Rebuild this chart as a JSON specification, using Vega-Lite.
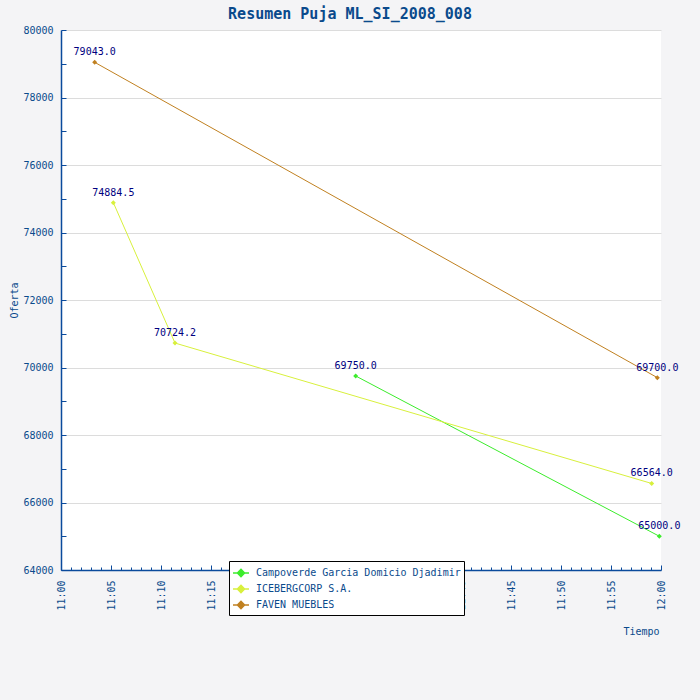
{
  "$schema": "https://vega.github.io/schema/vega-lite/v6.json",
  "autosize": "none",
  "width": 600,
  "height": 540,
  "padding": {"left": 61, "top": 30, "right": 39, "bottom": 130},
  "background": "#f4f4f6",
  "title": {
    "text": "Resumen Puja ML_SI_2008_008",
    "font": "DejaVu Sans Mono",
    "fontSize": 15,
    "fontWeight": "bold",
    "color": "#0a4a8c",
    "frame": "group",
    "anchor": "middle",
    "dx": -11,
    "offset": 3
  },
  "data": {
    "values": [
      {"postor": "Campoverde Garcia Domicio Djadimir", "tiempo": "2008-01-01T11:29:28Z", "oferta": 69750.0},
      {"postor": "Campoverde Garcia Domicio Djadimir", "tiempo": "2008-01-01T11:59:50Z", "oferta": 65000.0},
      {"postor": "ICEBERGCORP S.A.", "tiempo": "2008-01-01T11:05:14Z", "oferta": 74884.5},
      {"postor": "ICEBERGCORP S.A.", "tiempo": "2008-01-01T11:11:24Z", "oferta": 70724.2},
      {"postor": "ICEBERGCORP S.A.", "tiempo": "2008-01-01T11:59:04Z", "oferta": 66564.0},
      {"postor": "FAVEN MUEBLES", "tiempo": "2008-01-01T11:03:22Z", "oferta": 79043.0},
      {"postor": "FAVEN MUEBLES", "tiempo": "2008-01-01T11:59:38Z", "oferta": 69700.0}
    ]
  },
  "encoding": {
    "x": {
      "field": "tiempo",
      "type": "temporal",
      "title": "Tiempo",
      "scale": {
        "type": "utc",
        "domain": [
          {"year": 2008, "month": 1, "date": 1, "hours": 11, "minutes": 0, "utc": true},
          {"year": 2008, "month": 1, "date": 1, "hours": 12, "minutes": 0, "utc": true}
        ]
      },
      "axis": {
        "tickCount": 60,
        "labelExpr": "utcminutes(datum.value) % 5 === 0 ? utcFormat(datum.value, '%H:%M') : ''",
        "labelAngle": 270,
        "labelAlign": "right",
        "labelBaseline": "middle",
        "labelPadding": 15,
        "labelOverlap": false,
        "labelFlush": false,
        "tickSize": {"condition": {"test": "utcminutes(datum.value) % 5 === 0", "value": -5}, "value": -3},
        "grid": false,
        "titleX": 598,
        "titleY": 61,
        "titleAlign": "right",
        "titleBaseline": "middle"
      }
    },
    "y": {
      "field": "oferta",
      "type": "quantitative",
      "title": "Oferta",
      "scale": {"domain": [64000, 80000], "nice": false, "zero": false},
      "axis": {
        "values": [64000, 65000, 66000, 67000, 68000, 69000, 70000, 71000, 72000, 73000, 74000, 75000, 76000, 77000, 78000, 79000, 80000],
        "labelExpr": "datum.value % 2000 === 0 ? format(datum.value, 'd') : ''",
        "gridOpacity": {"condition": {"test": "datum.value % 2000 === 0", "value": 1}, "value": 0},
        "tickSize": -5,
        "labelPadding": 13,
        "titleX": -47,
        "titleY": 270,
        "titleAngle": 270,
        "titleAlign": "center",
        "titleBaseline": "middle"
      }
    },
    "color": {
      "field": "postor",
      "type": "nominal",
      "scale": {
        "domain": ["Campoverde Garcia Domicio Djadimir", "ICEBERGCORP S.A.", "FAVEN MUEBLES"],
        "range": ["#3cec2c", "#d8f03c", "#c08020"]
      },
      "legend": {
        "title": null,
        "orient": "none",
        "legendX": 168,
        "legendY": 531,
        "fillColor": "white",
        "strokeColor": "black",
        "padding": 3,
        "symbolType": "M-1,0L-0.45,0L0,-0.45L0.45,0L1,0L0.45,0L0,0.45L-0.45,0Z",
        "symbolSize": 256,
        "symbolStrokeWidth": 1.5,
        "labelOffset": 6,
        "labelLimit": 400,
        "rowPadding": 0
      }
    }
  },
  "layer": [
    {
      "mark": {
        "type": "line",
        "strokeWidth": 1,
        "point": {"shape": "diamond", "size": 25, "filled": true}
      }
    },
    {
      "mark": {
        "type": "text",
        "dy": -10,
        "font": "DejaVu Sans Mono",
        "fontSize": 10
      },
      "encoding": {
        "text": {"field": "oferta", "type": "quantitative", "format": ".1f"},
        "color": {"value": "#000080"}
      }
    }
  ],
  "config": {
    "view": {"fill": "white", "stroke": null},
    "font": "DejaVu Sans Mono",
    "axis": {
      "domainColor": "#0a4a9c",
      "domainWidth": 1.5,
      "tickColor": "#0a4a9c",
      "tickWidth": 1,
      "labelColor": "#0a4a8c",
      "labelFont": "DejaVu Sans Mono",
      "labelFontSize": 10,
      "titleColor": "#0a4a8c",
      "titleFont": "DejaVu Sans Mono",
      "titleFontSize": 10,
      "titleFontWeight": "normal",
      "gridColor": "#dcdcdc",
      "gridWidth": 1
    },
    "legend": {
      "labelColor": "#0a4a8c",
      "labelFont": "DejaVu Sans Mono",
      "labelFontSize": 10
    }
  }
}
